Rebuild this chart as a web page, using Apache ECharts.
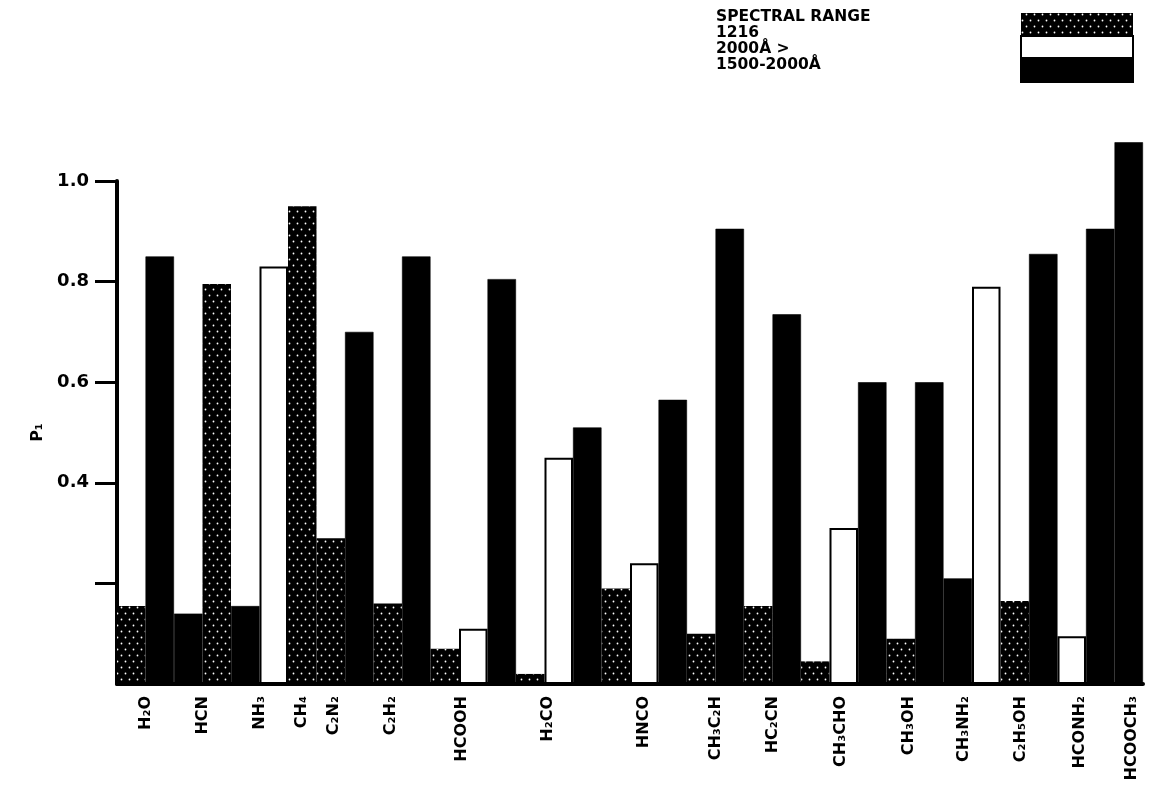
<!DOCTYPE html>
<html>
<head>
<meta charset="utf-8">
<title>P1 by spectral range</title>
<script src="https://cdn.jsdelivr.net/npm/echarts@6/dist/echarts.min.js"></script>
<style>
    html, body { margin: 0; padding: 0; background: #fff; }
    #main { width: 1154px; height: 785px; }
</style>
</head>
<body>
<div id="main"></div>
<script>
// molecule names and where each label sits along the bar row (in bar slots)
var molecules = ['H₂O', 'HCN', 'NH₃', 'CH₄', 'C₂N₂', 'C₂H₂', 'HCOOH', 'H₂CO', 'HNCO', 'CH₃C₂H',
    'HC₂CN', 'CH₃CHO', 'CH₃OH', 'CH₃NH₂', 'C₂H₅OH', 'HCONH₂', 'HCOOCH₃'];
var moleculePos = [1, 3, 5, 6.5, 7.6, 9.6, 12.1, 15.1, 18.5, 21, 23, 25.4, 27.8, 29.7, 31.7, 33.8, 35.6];

// one entry per bar, left to right: S = 1216, W = 2000A >, B = 1500-2000A
var slotRange = ['S', 'B', 'B', 'S', 'B', 'W', 'S', 'S', 'B', 'S', 'B', 'S', 'W', 'B', 'S', 'W', 'B', 'S',
    'W', 'B', 'S', 'B', 'S', 'B', 'S', 'W', 'B', 'S', 'B', 'B', 'W', 'S', 'B', 'W', 'B', 'B'];
var slotValue = [0.155, 0.85, 0.14, 0.795, 0.155, 0.83, 0.95, 0.29, 0.70, 0.16, 0.85, 0.07, 0.11, 0.805,
    0.02, 0.45, 0.51, 0.19, 0.24, 0.565, 0.10, 0.905, 0.155, 0.735, 0.045, 0.31, 0.60, 0.09, 0.60, 0.21,
    0.79, 0.165, 0.855, 0.095, 0.905, 1.077];

var rangeNames = ['1216', '2000Å >', '1500-2000Å'];
var yTicks = [0.2, 0.4, 0.6, 0.8, 1.0];
var yLabels = [0.4, 0.6, 0.8, 1.0];

var FONT = 'DejaVu Sans';

// dotted halftone used for the 1216 bars
var stipple = {
    symbol: 'circle',
    color: '#ffffff',
    symbolSize: 0.6,
    dashArrayX: [[3, 5], [0, 4, 3, 1]],
    dashArrayY: [3, 3]
};

function rangeData(key) {
    return slotValue.map(function (v, i) {
        return slotRange[i] === key ? v : '-';
    });
}

var myChart = echarts.init(document.getElementById('main'));
var option = {
    animation: false,
    backgroundColor: '#fff',
    title: {
        left: 711,
        top: 4,
        text: 'SPECTRAL RANGE\n1216\n2000Å >\n1500-2000Å',
        textStyle: {
            fontFamily: FONT,
            fontWeight: 'bold',
            fontSize: 15.5,
            lineHeight: 16,
            color: '#000'
        }
    },
    legend: {
        left: 1015,
        top: 8,
        orient: 'vertical',
        icon: 'rect',
        itemWidth: 112,
        itemHeight: 22,
        itemGap: 0,
        selectedMode: false,
        formatter: function () { return ''; },
        data: rangeNames
    },
    grid: {
        left: 117,
        right: 11,
        top: 181,
        bottom: 101
    },
    xAxis: [
        {
            type: 'category',
            data: slotValue.map(function (v, i) { return String(i); }),
            axisLine: { lineStyle: { color: '#000', width: 4 } },
            axisTick: { show: false },
            axisLabel: { show: false }
        },
        {
            type: 'value',
            position: 'bottom',
            min: 0,
            max: slotValue.length,
            axisLine: { show: false },
            axisTick: { show: false },
            splitLine: { show: false },
            axisLabel: {
                customValues: moleculePos,
                rotate: 90,
                margin: 12,
                color: '#000',
                fontFamily: FONT,
                fontWeight: 'bold',
                fontSize: 16,
                formatter: function (v) {
                    var k = moleculePos.indexOf(v);
                    return k >= 0 ? molecules[k] : '';
                }
            }
        }
    ],
    yAxis: {
        type: 'value',
        min: 0,
        max: 1.0,
        interval: 0.2,
        name: 'P₁',
        nameLocation: 'middle',
        nameRotate: 90,
        nameGap: 62,
        nameTextStyle: { fontFamily: FONT, fontWeight: 'bold', fontSize: 16, color: '#000' },
        axisLine: { show: true, lineStyle: { color: '#000', width: 4 } },
        axisTick: { show: true, length: 22, lineStyle: { color: '#000', width: 3 }, customValues: yTicks },
        splitLine: { show: false },
        axisLabel: {
            customValues: yLabels,
            margin: 28,
            color: '#000',
            fontFamily: FONT,
            fontWeight: 'bold',
            fontSize: 18,
            formatter: function (v) { return v.toFixed(1); }
        }
    },
    series: [
        {
            name: rangeNames[0],
            type: 'bar',
            barGap: '-100%',
            barCategoryGap: '0%',
            itemStyle: { color: '#000', decal: stipple },
            data: rangeData('S')
        },
        {
            name: rangeNames[1],
            type: 'bar',
            barGap: '-100%',
            barCategoryGap: '0%',
            itemStyle: { color: '#fff', borderColor: '#000', borderWidth: 2 },
            data: rangeData('W')
        },
        {
            name: rangeNames[2],
            type: 'bar',
            barGap: '-100%',
            barCategoryGap: '0%',
            clip: false,
            itemStyle: { color: '#000', borderColor: '#000', borderWidth: 0.6 },
            data: rangeData('B')
        }
    ]
};
myChart.setOption(option);
</script>
</body>
</html>
